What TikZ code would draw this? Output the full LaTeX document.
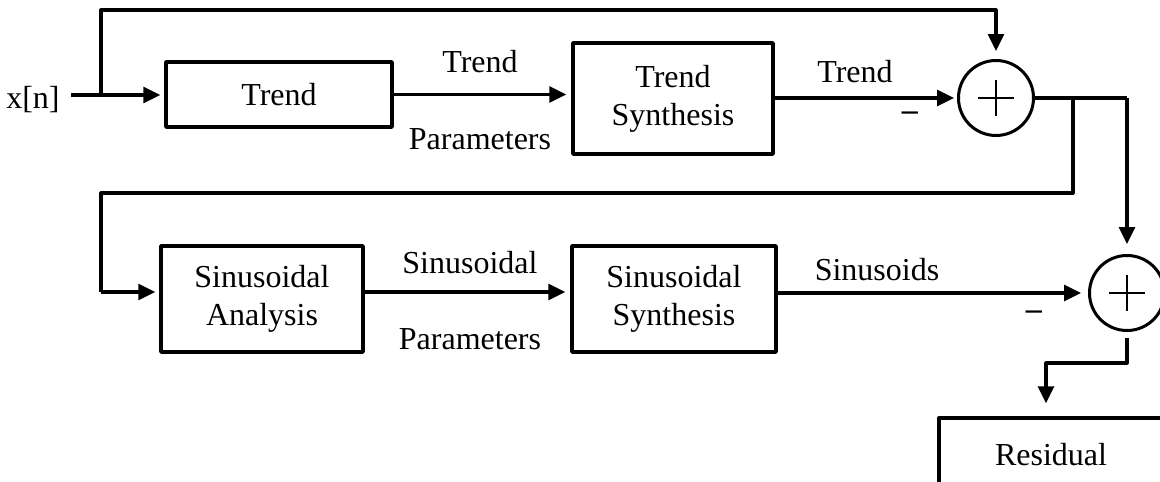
\documentclass[tikz,border=0pt]{standalone}
\usepackage{fontspec}
\setmainfont{Liberation Serif}
\usetikzlibrary{arrows.meta}
\begin{document}
\begin{tikzpicture}[x=1pt,y=-1pt,
  font=\fontsize{32}{38}\selectfont,
  blk/.style={draw, rectangle, line width=3.4pt, align=center, inner sep=0pt, line join=round},
  sumnode/.style={draw, circle, line width=3pt, minimum size=75pt, inner sep=0pt},
  conn/.style={line width=3.2pt, line join=round},
  arr/.style={conn, -{Triangle[length=17pt,width=16pt]}},
  lbl/.style={inner sep=0pt}]
\useasboundingbox (0,0) rectangle (1160,482);
\clip (0,0) rectangle (1160,482);

% processing blocks
\node[blk, minimum width=226pt, minimum height=65pt]  (trend) at (279,94.5) {Trend};
\node[blk, minimum width=200pt, minimum height=111pt] (tsyn)  at (673,98.5) {\raisebox{-4pt}{\begin{tabular}{@{}c@{}}Trend\\Synthesis\end{tabular}}};
\node[blk, minimum width=202pt, minimum height=106pt] (sana)  at (262,299)  {Sinusoidal\\Analysis};
\node[blk, minimum width=204pt, minimum height=106pt] (ssyn)  at (674,299)  {Sinusoidal\\Synthesis};
\node[blk, minimum width=224pt, minimum height=74pt]  (resid) at (1051,455) {Residual};

% summing junctions
\node[sumnode] (sum1) at (996,98) {};
\node[sumnode] (sum2) at (1127,293) {};
\foreach \s in {sum1,sum2}{
  \draw[line width=2.6pt] ([xshift=-18pt]\s.center) -- ([xshift=18pt]\s.center);
  \draw[line width=2.6pt] ([yshift=-18pt]\s.center) -- ([yshift=18pt]\s.center);
}

% input
\node[lbl] (xn) at (33,100) {x[n]};

% routing points
\coordinate (split1) at (101,95);
\coordinate (tl) at (101,10);
\coordinate (tr) at (996,10);
\coordinate (fork) at (1127,98);
\coordinate (split2) at (1073,98);
\coordinate (br) at (1073,193);
\coordinate (bl) at (101,193);
\coordinate (in2) at (101,292);
\coordinate (r1) at (1127,363);
\coordinate (r2) at (1046,363);

% upper chain
\draw[arr, shorten >=4pt] ([xshift=11pt]xn.east |- split1) -- (trend.west |- split1);
\draw[arr, shorten >=8pt] (split1) -- (tl) -- (tr) -- (sum1.north);
\draw[arr, shorten >=5pt] (trend.east) -- (trend.east -| tsyn.west);
\draw[arr, shorten >=3pt] (tsyn.east |- sum1) -- (sum1.west);
\draw[conn] (sum1.east) -- (fork);

% feed to the lower chain
\draw[conn] (split2) -- (br) -- (bl) -- (in2);
\draw[arr, shorten >=4pt] (in2) -- (in2 -| sana.west);
\draw[arr, shorten >=5pt] (sana.east |- in2) -- (in2 -| ssyn.west);
\draw[arr, shorten >=7pt] (ssyn.east |- sum2) -- (sum2.west);
\draw[arr, shorten >=10pt] (fork) -- (sum2.north);
\draw[arr, shorten <=6pt, shorten >=13pt] (sum2.south) -- (r1) -- (r2) -- (r2 |- resid.north);

% signal labels
\node[lbl] (l1) at (480,62)  {Trend};
\node[lbl] (l2) at (480,139) {Parameters};
\node[lbl] (l3) at (855,72)  {Trend};
\node[lbl] (m1) at (910,116) {\textbf{–}};
\node[lbl] (l4) at (470,263) {Sinusoidal};
\node[lbl] (l5) at (470,339) {Parameters};
\node[lbl] (l6) at (877,270) {Sinusoids};
\node[lbl] (m2) at (1034,315) {\textbf{–}};
\end{tikzpicture}
\end{document}
